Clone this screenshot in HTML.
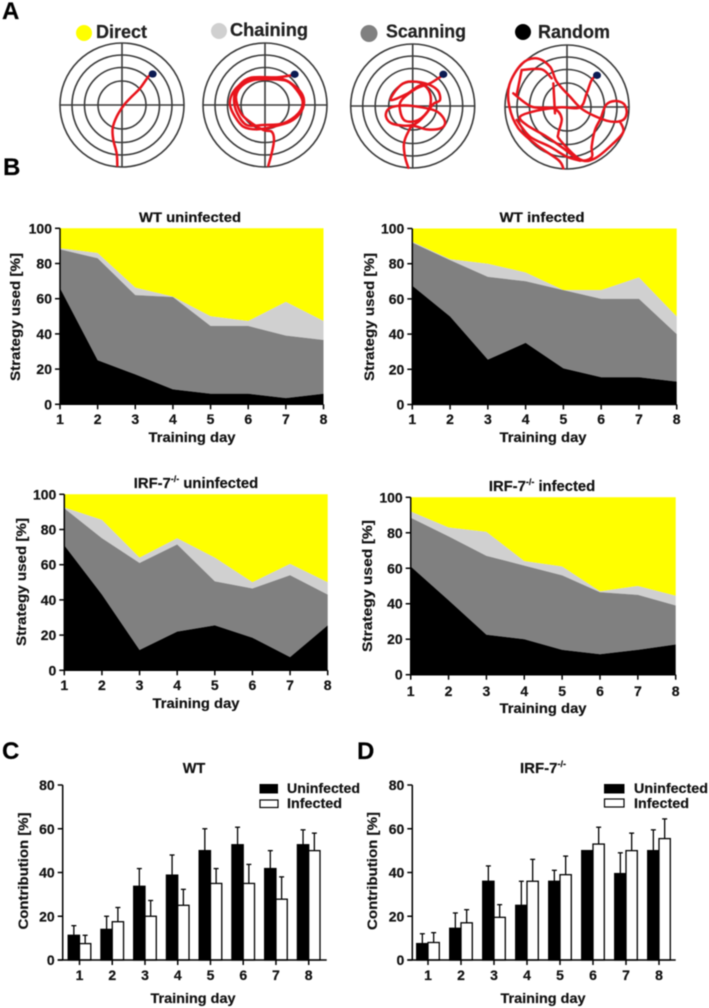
<!DOCTYPE html>
<html lang="en">
<head>
<meta charset="utf-8">
<title>Navigation strategies in WT and IRF-7 knockout mice</title>
<style>
html,body{margin:0;padding:0;background:#fff;width:709px;height:1008px;overflow:hidden}
svg{display:block;filter:blur(0.45px)}
text{font-family:"Liberation Sans",Arial,sans-serif;font-weight:bold;fill:#111;stroke:#111;stroke-width:.2}
.t{font-size:13.5px;text-anchor:middle}
.x{font-size:14px;text-anchor:middle}
.p{font-size:24px;fill:#000}
.l{font-size:18px;fill:#222}
.g{font-size:13.5px}
.tick{font-size:14px}
.ring{fill:none;stroke:#3a3a3a;stroke-width:1.6}
.track{fill:none;stroke:#e8141c;stroke-width:7.5;stroke-linejoin:round;stroke-linecap:round}
</style>
</head>
<body>
<svg id="figure" xmlns="http://www.w3.org/2000/svg" width="709" height="1008" viewBox="0 0 709 1008">
<rect x="0" y="0" width="709" height="1008" fill="#fff"/>

<text class="p" x="2" y="19">A</text>
<text class="p" x="3" y="175">B</text>
<text class="p" x="2" y="759">C</text>
<text class="p" x="357" y="759">D</text>

<g>
<circle cx="84" cy="33" r="8" fill="#ffff00"/>
<text class="l" x="96" y="38" textLength="51" lengthAdjust="spacingAndGlyphs">Direct</text>
<circle cx="219" cy="31" r="8" fill="#d0d0d0"/>
<text class="l" x="230" y="36" textLength="78" lengthAdjust="spacingAndGlyphs">Chaining</text>
<circle cx="369" cy="33.5" r="8.5" fill="#808080"/>
<text class="l" x="386" y="37.5" textLength="80" lengthAdjust="spacingAndGlyphs">Scanning</text>
<circle cx="523" cy="32" r="8" fill="#000"/>
<text class="l" x="538" y="38" textLength="72" lengthAdjust="spacingAndGlyphs">Random</text>
</g>

<g transform="translate(122,105)">
<circle class="ring" r="62"/><circle class="ring" r="50"/><circle class="ring" r="37.5"/><circle class="ring" r="24"/>
<path class="ring" d="M-62,0H62M0,-62V62"/>
</g>
<g transform="translate(265,105)">
<circle class="ring" r="62"/><circle class="ring" r="50"/><circle class="ring" r="37.5"/><circle class="ring" r="24"/>
<path class="ring" d="M-62,0H62M0,-62V62"/>
</g>
<g transform="translate(412.7,106)">
<circle class="ring" r="62"/><circle class="ring" r="50"/><circle class="ring" r="37.5"/><circle class="ring" r="24"/>
<path class="ring" d="M-62,0H62M0,-62V62"/>
</g>
<g transform="translate(567,107)">
<circle class="ring" r="62"/><circle class="ring" r="50"/><circle class="ring" r="37.5"/><circle class="ring" r="24"/>
<path class="ring" d="M-62,0H62M0,-62V62"/>
</g>

<g transform="scale(0.33333)">
<path class="track" d="M352,497L350,460 340,420 338,385 350,350 372,315 395,290 420,265 445,230 455,222"/>
<path class="track" d="M805,497L815,460 822,420 815,395 790,390 745,362 720,335 708,290 725,258 760,240 810,238 860,243 890,270 908,305 895,340 850,370 790,375 740,375 712,340 702,300 712,265 750,240 800,235 850,238 880,255 905,280 912,310 900,340 870,365 820,380 770,388 730,380 705,350 690,315 695,285 715,258 752,233 830,232 880,225"/>
<ellipse cx="458" cy="222" rx="12" ry="11" fill="#0b1a52"/>
<ellipse cx="884" cy="223" rx="12" ry="11" fill="#0b1a52"/>
</g>
<g transform="translate(350,0) scale(0.33333)">
<path class="track" d="M175,503L165,470 162,430 175,395 190,378 230,388 272,385 285,365 262,335 215,322 160,316 118,325 108,350 130,372 188,375 225,345 250,312 270,300 262,270 225,250 175,245 145,262 122,300 170,282 215,255 240,280 238,325 205,360 165,362 150,330 155,300 200,265 240,250 272,230"/>
<path class="track" d="M640,505L625,480 560,435 505,385 478,320 478,255 515,192 560,175 600,200 620,245 660,290 700,330 770,362 815,362 830,340 822,312 795,303 768,315 752,355 735,390 725,440 725,472 690,480 640,445 590,410 530,375 510,350 560,332 630,322 690,322 710,280 725,240 742,225M515,210L575,208 605,235M490,280L545,320 610,325 635,355 625,400 630,420 690,478 735,475 790,430 820,395 810,365M515,210L500,285M610,250L615,340M500,360L540,410 600,440 650,470 690,482"/>
<ellipse cx="280" cy="223" rx="12" ry="11" fill="#0b1a52"/>
<ellipse cx="741" cy="226" rx="12" ry="11" fill="#0b1a52"/>
</g>

<g id="area-wt-un"></g>
<g id="area-wt-in"></g>
<g id="area-ko-un"></g>
<g id="area-ko-in"></g>
<g id="bars-wt"></g>
<g id="bars-ko"></g>

<text class="t" x="190" y="222" textLength="102" lengthAdjust="spacingAndGlyphs">WT uninfected</text>
<text class="t" x="542" y="222" textLength="85" lengthAdjust="spacingAndGlyphs">WT infected</text>
<text class="t" x="196" y="488" style="font-size:14.8px">IRF-7<tspan font-size="9" dy="-6">-/-</tspan><tspan dy="6"> uninfected</tspan></text>
<text class="t" x="542" y="491" style="font-size:14.8px">IRF-7<tspan font-size="9" dy="-6">-/-</tspan><tspan dy="6"> infected</tspan></text>
<text class="t" x="194" y="773" style="font-size:14.5px">WT</text>
<text class="t" x="543" y="773" style="font-size:15px">IRF-7<tspan font-size="9" dy="-6">-/-</tspan></text>

<text class="x" x="192" y="442" textLength="87" lengthAdjust="spacingAndGlyphs">Training day</text>
<text class="x" x="543" y="442" textLength="87" lengthAdjust="spacingAndGlyphs">Training day</text>
<text class="x" x="196" y="708" textLength="87" lengthAdjust="spacingAndGlyphs">Training day</text>
<text class="x" x="543" y="713" textLength="87" lengthAdjust="spacingAndGlyphs">Training day</text>
<text class="x" x="193" y="1003" textLength="85" lengthAdjust="spacingAndGlyphs">Training day</text>
<text class="x" x="543" y="1003" textLength="85" lengthAdjust="spacingAndGlyphs">Training day</text>

<text class="x" transform="translate(20,317) rotate(-90)" textLength="128" lengthAdjust="spacingAndGlyphs">Strategy used [%]</text>
<text class="x" transform="translate(374,317) rotate(-90)" textLength="128" lengthAdjust="spacingAndGlyphs">Strategy used [%]</text>
<text class="x" transform="translate(26,582) rotate(-90)" textLength="128" lengthAdjust="spacingAndGlyphs">Strategy used [%]</text>
<text class="x" transform="translate(372,586) rotate(-90)" textLength="132" lengthAdjust="spacingAndGlyphs">Strategy used [%]</text>
<text class="x" transform="translate(28,871) rotate(-90)" textLength="117" lengthAdjust="spacingAndGlyphs">Contribution [%]</text>
<text class="x" transform="translate(377,871) rotate(-90)" textLength="118" lengthAdjust="spacingAndGlyphs">Contribution [%]</text>

<g>
<rect x="259.5" y="784" width="18.5" height="9.5" fill="#000"/>
<rect x="260" y="800" width="18" height="7.5" fill="#fff" stroke="#000" stroke-width="1.2"/>
<text class="g" x="287" y="793" textLength="73" lengthAdjust="spacingAndGlyphs">Uninfected</text>
<text class="g" x="287" y="808" textLength="55" lengthAdjust="spacingAndGlyphs">Infected</text>
</g>
<g>
<rect x="604" y="784" width="20.5" height="9.5" fill="#000"/>
<rect x="604.5" y="799" width="19.5" height="8" fill="#fff" stroke="#000" stroke-width="1.2"/>
<text class="g" x="634" y="793" textLength="74" lengthAdjust="spacingAndGlyphs">Uninfected</text>
<text class="g" x="634" y="808" textLength="55" lengthAdjust="spacingAndGlyphs">Infected</text>
</g>
</svg>

<script>
const trainingDays = [1, 2, 3, 4, 5, 6, 7, 8];
const areaTickLabels = [0, 20, 40, 60, 80, 100];
const barTickLabels = [0, 20, 40, 60, 80];

const wtUninfectedRandom = [66, 25, 17, 8.5, 6, 6, 3.5, 6];
const wtUninfectedScanning = [22, 58, 45, 52.5, 38.5, 38.5, 35.5, 30.5];
const wtUninfectedChaining = [0.7, 3, 4.3, 0.2, 5.5, 2.8, 19.2, 10.8];
const wtUninfectedDirect = [11.3, 14, 33.7, 38.8, 50, 52.7, 41.8, 52.7];

const wtInfectedRandom = [67.5, 50, 25.5, 35, 20.5, 15.5, 15.5, 13];
const wtInfectedScanning = [24.5, 32, 47, 35, 44.5, 44.5, 44.5, 27];
const wtInfectedChaining = [0.5, 0.5, 7.5, 5, 0, 5, 12.2, 10];
const wtInfectedDirect = [7.5, 17.5, 20, 25, 35, 35, 27.8, 50];

const koUninfectedRandom = [71, 43, 11.5, 22, 25.5, 18.5, 7.5, 25.5];
const koUninfectedScanning = [21, 32, 49.5, 49.5, 25, 28, 46.5, 17.5];
const koUninfectedChaining = [0.5, 10.5, 3, 3.5, 13.5, 3.5, 6.5, 7];
const koUninfectedDirect = [7.5, 14.5, 36, 25, 36, 50, 39.5, 50];

const koInfectedRandom = [61, 42, 22.5, 20, 14, 11.5, 14, 17];
const koInfectedScanning = [27.5, 36, 44.5, 41.5, 42, 35, 31, 22];
const koInfectedChaining = [3.5, 5, 13.5, 2.5, 5, 0.5, 5, 5.5];
const koInfectedDirect = [8, 17, 19.5, 36, 39, 53, 50, 55.5];

const wtBarUninfected = [11.3, 14, 33.7, 38.8, 50, 52.7, 41.8, 52.7];
const wtBarUninfectedError = [4.4, 6, 8.1, 9.2, 10, 8, 8.2, 6.8];
const wtBarInfected = [7.5, 17.5, 20, 25, 35, 35, 27.8, 50];
const wtBarInfectedError = [3.8, 6.5, 7.2, 7.3, 6.8, 8.7, 10.2, 8];

const koBarUninfected = [7.5, 14.5, 36, 25, 36, 50, 39.5, 50];
const koBarUninfectedError = [4.5, 7, 7, 11, 5, 0, 9.5, 9.5];
const koBarInfected = [8, 17, 19.5, 36, 39, 53, 50, 55.5];
const koBarInfectedError = [4.5, 6, 5.8, 10, 8.5, 7.7, 8, 9];

const SVGNS = 'http://www.w3.org/2000/svg';

function make(parent, tag, name, props) {
  const el = document.createElementNS(SVGNS, tag);
  
  
  for (const k in props) el.setAttribute(k, props[k]);
  parent.appendChild(el);
  return el;
}

function linear(d0, d1, r0, r1) {
  return function (v) { return r0 + (v - d0) / (d1 - d0) * (r1 - r0); };
}

function smoothTrack(path) {
  const parts = path.getAttribute('d').split('M').filter(Boolean);
  const out = parts.map(function (part) {
    const n = part.replace('L', ' ').trim().split(/[\s,]+/).map(Number);
    const p = [];
    for (let i = 0; i < n.length; i += 2) p.push([n[i], n[i + 1]]);
    let d = 'M' + p[0][0] + ',' + p[0][1];
    for (let i = 0; i < p.length - 1; i++) {
      const a = p[Math.max(i - 1, 0)], b = p[i], c = p[i + 1], e = p[Math.min(i + 2, p.length - 1)];
      d += 'C' + (b[0] + (c[0] - a[0]) / 6) + ',' + (b[1] + (c[1] - a[1]) / 6) + ' ' +
           (c[0] - (e[0] - b[0]) / 6) + ',' + (c[1] - (e[1] - b[1]) / 6) + ' ' + c[0] + ',' + c[1];
    }
    return d;
  });
  path.setAttribute('d', out.join(''));
}
document.querySelectorAll('.track').forEach(smoothTrack);

function drawYAxis(g, xPos, y, ticks, tickLeft, labelRight) {
  make(g, 'line', 'y-axis-line', {x1: xPos, x2: xPos, y1: y(ticks[0]), y2: y(ticks[ticks.length - 1]), stroke: '#000', 'stroke-width': 1.5});
  ticks.forEach(function (t) {
    make(g, 'line', 'y-axis-tick', {x1: xPos - tickLeft, x2: xPos, y1: y(t), y2: y(t), stroke: '#000', 'stroke-width': 1.5});
    const label = make(g, 'text', 'y-tick-label', {class: 'tick', x: labelRight, y: y(t) + 5, 'text-anchor': 'end'});
    label.textContent = t;
  });
}

function drawAreaChart(id, x0, x1, yTop, yBottom, labelY, series) {
  const g = document.getElementById(id);
  const x = linear(trainingDays[0], trainingDays[trainingDays.length - 1], x0, x1);
  const y = linear(0, 100, yBottom, yTop);
  const names = ['random', 'scanning', 'chaining', 'direct'];
  const colors = ['#000000', '#808080', '#d0d0d0', '#ffff00'];
  const base = trainingDays.map(function () { return 0; });
  const layers = [];
  series.forEach(function (values, s) {
    const lower = base.slice();
    values.forEach(function (v, i) { base[i] += v; });
    layers.push({lower: lower, upper: base.slice(), s: s});
  });
  layers.slice().reverse().forEach(function (layer) {
    const top = trainingDays.map(function (d, i) { return x(d) + ',' + y(layer.upper[i]); });
    const bottom = trainingDays.map(function (d, i) { return x(d) + ',' + y(layer.lower[i]); }).reverse();
    make(g, 'polygon', names[layer.s] + '-area', {points: top.concat(bottom).join(' '), fill: colors[layer.s]});
  });
  drawYAxis(g, x0, y, areaTickLabels, 5, x0 - 8);
  make(g, 'line', 'x-axis-line', {x1: x0, x2: x1, y1: yBottom, y2: yBottom, stroke: '#000', 'stroke-width': 1.5});
  trainingDays.forEach(function (d) {
    make(g, 'line', 'x-axis-tick', {x1: x(d), x2: x(d), y1: yBottom, y2: yBottom + 5, stroke: '#000', 'stroke-width': 1.5});
    const label = make(g, 'text', 'x-tick-label', {class: 'tick', x: x(d), y: labelY, 'text-anchor': 'middle'});
    label.textContent = d;
  });
}

function drawBarChart(id, axisX, axisEnd, first, last, labelRight, un, unErr, inf, infErr) {
  const g = document.getElementById(id);
  const x = linear(trainingDays[0], trainingDays[trainingDays.length - 1], first, last);
  const y = linear(0, 80, 960, 785);
  const w = 11.3;
  function bar(cx, v, e, fill, name) {
    if (e > 0) {
      make(g, 'line', name + '-error-stem', {x1: cx, x2: cx, y1: y(v), y2: y(v + e), stroke: '#000', 'stroke-width': 1.3});
      make(g, 'line', name + '-error-cap', {x1: cx - 2.5, x2: cx + 2.5, y1: y(v + e), y2: y(v + e), stroke: '#000', 'stroke-width': 1.3});
    }
    make(g, 'rect', name + '-bar', {x: cx - w / 2, y: y(v), width: w, height: y(0) - y(v), fill: fill, stroke: '#000', 'stroke-width': 1.3});
  }
  trainingDays.forEach(function (d, i) {
    bar(x(d) - w / 2, un[i], unErr[i], '#000', 'uninfected');
    bar(x(d) + w / 2, inf[i], infErr[i], '#fff', 'infected');
  });
  drawYAxis(g, axisX, y, barTickLabels, 5, axisX - 8);
  make(g, 'line', 'x-axis-line', {x1: axisX - 5, x2: axisEnd, y1: y(0), y2: y(0), stroke: '#000', 'stroke-width': 1.5});
  trainingDays.forEach(function (d) {
    make(g, 'line', 'x-axis-tick', {x1: x(d), x2: x(d), y1: y(0), y2: y(0) + 5, stroke: '#000', 'stroke-width': 1.5});
    const label = make(g, 'text', 'x-tick-label', {class: 'tick', x: x(d), y: 980, 'text-anchor': 'middle'});
    label.textContent = d;
  });
}

drawAreaChart('area-wt-un', 60, 323.5, 228.3, 404.3, 424, [wtUninfectedRandom, wtUninfectedScanning, wtUninfectedChaining, wtUninfectedDirect]);
drawAreaChart('area-wt-in', 412.3, 676.7, 228.5, 404.5, 424, [wtInfectedRandom, wtInfectedScanning, wtInfectedChaining, wtInfectedDirect]);
drawAreaChart('area-ko-un', 64.3, 327.7, 494.3, 670.3, 690, [koUninfectedRandom, koUninfectedScanning, koUninfectedChaining, koUninfectedDirect]);
drawAreaChart('area-ko-in', 410.7, 675.7, 497.3, 674.7, 696, [koInfectedRandom, koInfectedScanning, koInfectedChaining, koInfectedDirect]);
drawBarChart('bars-wt', 62.7, 326.7, 79.5, 308.7, 54, wtBarUninfected, wtBarUninfectedError, wtBarInfected, wtBarInfectedError);
drawBarChart('bars-ko', 412.3, 675.7, 428, 659, 403, koBarUninfected, koBarUninfectedError, koBarInfected, koBarInfectedError);
</script>
</body>
</html>
